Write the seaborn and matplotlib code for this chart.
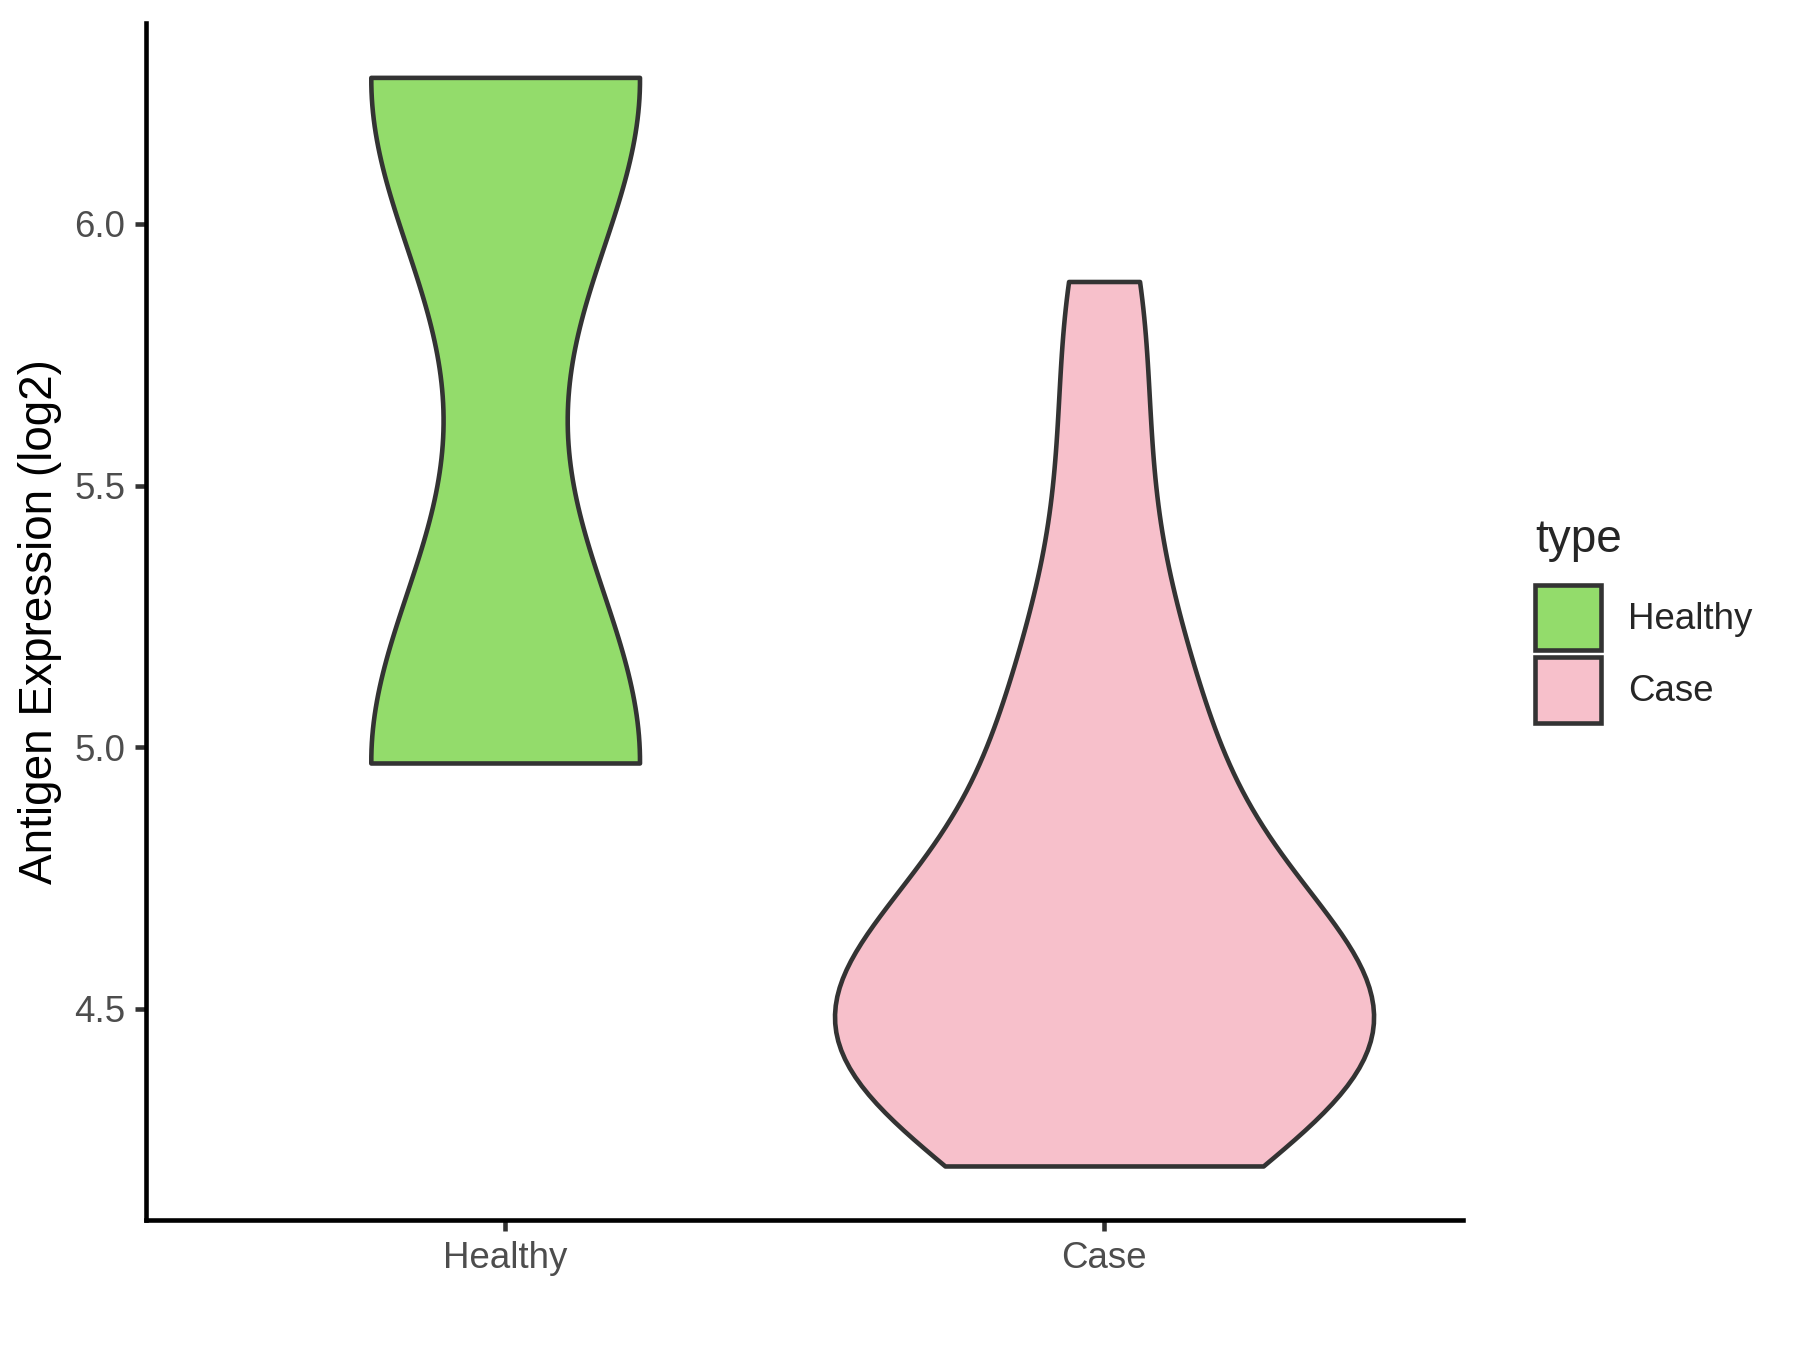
import numpy as np
import pandas as pd
import matplotlib
matplotlib.use("Agg")
import matplotlib.pyplot as plt
import matplotlib.patches as mpatches
import seaborn as sns

# ---- data ----
categories = ["Healthy", "Case"]
healthy_values = [4.97, 6.28]
case_values = [4.20, 4.24, 4.30, 4.35, 4.39, 4.43, 4.46, 4.50, 4.53, 4.57,
               4.61, 4.66, 4.73, 4.81, 4.92, 5.03, 5.15, 5.33, 5.60, 5.89]
colors = ["#93DC6B", "#F7C0CB"]
y_ticks = [4.5, 5.0, 5.5, 6.0]
y_label = "Antigen Expression (log2)"
legend_title = "type"

df = pd.DataFrame({
    "type": ["Healthy"] * len(healthy_values) + ["Case"] * len(case_values),
    "value": healthy_values + case_values,
})


def nrd0(kde):
    """R's default bandwidth (bw.nrd0) expressed as a gaussian_kde factor."""
    x = np.asarray(kde.dataset).ravel()
    n = x.size
    sd = np.std(x, ddof=1)
    q75, q25 = np.percentile(x, [75, 25])
    lo = min(sd, (q75 - q25) / 1.34)
    if lo == 0:
        lo = sd if sd > 0 else 1.0
    bw = 0.9 * lo * n ** (-0.2)
    return bw / sd


sns.set_style("white")
plt.rcParams["font.family"] = ["Liberation Sans", "DejaVu Sans"]

fig = plt.figure(figsize=(6, 4.5), dpi=300)
ax = fig.add_axes([0.081, 0.096, 0.732, 0.887])

sns.violinplot(
    data=df, x="type", y="value", hue="type", order=categories,
    hue_order=categories, palette=colors, cut=0, inner=None, width=0.9,
    density_norm="area", common_norm=True, bw_method=nrd0, linewidth=1.1,
    linecolor="#333333", saturation=1, legend=False, ax=ax,
)

ax.set_xlim(-0.6, 1.6)
ymin, ymax = min(df["value"]), max(df["value"])
pad = (ymax - ymin) * 0.05
ax.set_ylim(ymin - pad, ymax + pad)
ax.set_yticks(y_ticks)
ax.set_yticklabels([f"{t:.1f}" for t in y_ticks])
ax.set_xlabel("")
ax.set_ylabel(y_label, fontsize=11, color="black", labelpad=3)

for side in ["top", "right"]:
    ax.spines[side].set_visible(False)
for side in ["left", "bottom"]:
    ax.spines[side].set_linewidth(1.1)
    ax.spines[side].set_color("black")
ax.tick_params(axis="both", which="both", length=2.75, width=1.1,
               color="#333333", labelsize=8.8, labelcolor="#4D4D4D", pad=2.2,
               left=True, bottom=True)
ax.grid(False)

handles = [mpatches.Patch(facecolor=c, edgecolor="#333333", linewidth=1.1)
           for c in colors]
leg = fig.legend(
    handles, categories, title=legend_title, loc="center left",
    bbox_to_anchor=(0.853, 0.5405), frameon=False, fontsize=8.8,
    title_fontsize=11, handlelength=1.78, handleheight=2.37,
    handletextpad=0.75, labelspacing=0.2, borderpad=0, borderaxespad=0,
    alignment="left",
)
leg._legend_box.sep = 5.5

fig.savefig("out.png", dpi=300)
